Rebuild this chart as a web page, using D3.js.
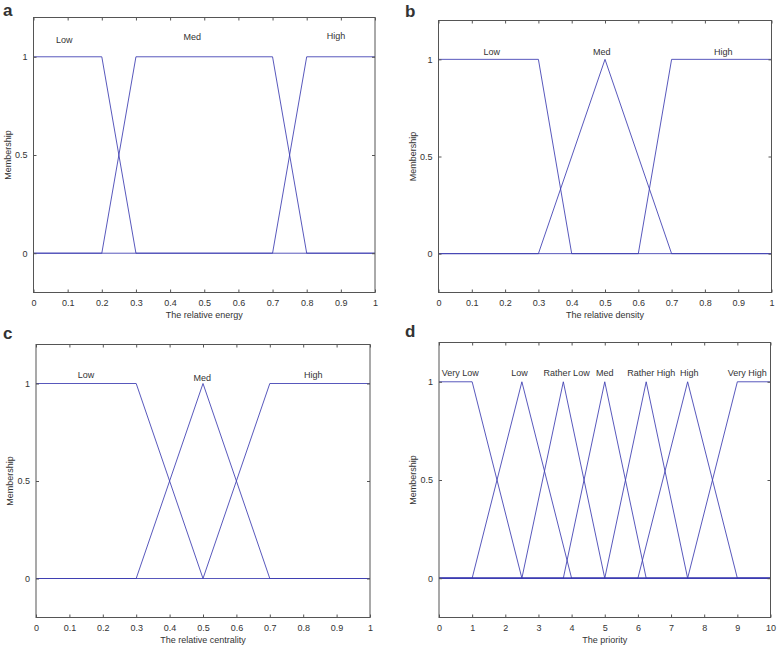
<!DOCTYPE html>
<html><head><meta charset="utf-8">
<script src="https://cdn.jsdelivr.net/npm/d3@7"></script>
<style>
body{margin:0;background:#fff;}
svg{display:block;}
text{font-family:"Liberation Sans",Arial,sans-serif;fill:#333;}
</style></head>
<body>
<svg id="c" width="778" height="648"></svg>
<script>
// ---- Data ----
const unitTicks = [0,0.1,0.2,0.3,0.4,0.5,0.6,0.7,0.8,0.9,1];
const unitTickLabels = ["0","0.1","0.2","0.3","0.4","0.5","0.6","0.7","0.8","0.9","1"];
const priorityTicks = [0,1,2,3,4,5,6,7,8,9,10];
const priorityTickLabels = ["0","1","2","3","4","5","6","7","8","9","10"];
const yTicks = [0,0.5,1];
const yTickLabels = ["0","0.5","1"];

// panel a: relative energy
const energyNames = ["Low","Med","High"];
const energyMF = [
  [[0,1],[0.2,1],[0.3,0],[1,0]],
  [[0,0],[0.2,0],[0.3,1],[0.7,1],[0.8,0],[1,0]],
  [[0,0],[0.7,0],[0.8,1],[1,1]]
];
const energyLabelX = [0.09,0.465,0.886];
const energyLabelY = [1.07,1.085,1.09];

// panel b: relative density
const densityNames = ["Low","Med","High"];
const densityMF = [
  [[0,1],[0.3,1],[0.4,0],[1,0]],
  [[0,0],[0.3,0],[0.5,1],[0.7,0],[1,0]],
  [[0,0],[0.6,0],[0.7,1],[1,1]]
];
const densityLabelX = [0.16,0.49,0.855];
const densityLabelY = [1.02,1.02,1.02];

// panel c: relative centrality
const centralityNames = ["Low","Med","High"];
const centralityMF = [
  [[0,1],[0.3,1],[0.5,0],[1,0]],
  [[0,0],[0.3,0],[0.5,1],[0.7,0],[1,0]],
  [[0,0],[0.5,0],[0.7,1],[1,1]]
];
const centralityLabelX = [0.15,0.498,0.83];
const centralityLabelY = [1.03,1.015,1.03];

// panel d: priority
const priorityNames = ["Very Low","Low","Rather Low","Med","Rather High","High","Very High"];
const priorityMF = [
  [[0,1],[1,1],[2.5,0],[10,0]],
  [[0,0],[1,0],[2.5,1],[4,0],[10,0]],
  [[0,0],[2.5,0],[3.75,1],[5,0],[10,0]],
  [[0,0],[3.75,0],[5,1],[6.25,0],[10,0]],
  [[0,0],[5,0],[6.25,1],[7.5,0],[10,0]],
  [[0,0],[6,0],[7.5,1],[9,0],[10,0]],
  [[0,0],[7.5,0],[9,1],[10,1]]
];
const priorityLabelX = [0.64,2.43,3.85,5.0,6.4,7.55,9.3];
const priorityLabelY = [1.03,1.03,1.03,1.03,1.03,1.03,1.03];

// ---- Drawing ----
const svg = d3.select("#c");
const lineColor = "#3b3bb0";

function panel(cfg){
  const x = d3.scaleLinear().domain(cfg.xDomain).range([cfg.left, cfg.right]);
  const y = d3.scaleLinear().domain([-0.2,1.2]).range([cfg.bottom, cfg.top]);
  const g = svg.append("g");

  // membership functions
  const line = d3.line().x(d=>x(d[0])).y(d=>y(d[1]));
  cfg.mf.forEach(m=>{
    g.append("path").attr("d", line(m)).attr("fill","none")
      .attr("stroke", lineColor).attr("stroke-width",1).attr("stroke-opacity",0.85);
  });

  // axes
  const bottomAxis = d3.axisBottom(x).tickValues(cfg.xTicks)
     .tickFormat((d,i)=>cfg.xTickLabels[i]).tickSizeInner(-3).tickSizeOuter(0).tickPadding(7);
  const topAxis = d3.axisTop(x).tickValues(cfg.xTicks).tickFormat("").tickSizeInner(-3).tickSizeOuter(0);
  const leftAxis = d3.axisLeft(y).tickValues(yTicks).tickFormat((d,i)=>yTickLabels[i])
     .tickSizeInner(-3).tickSizeOuter(0).tickPadding(6);
  const rightAxis = d3.axisRight(y).tickValues(yTicks).tickFormat("").tickSizeInner(-3).tickSizeOuter(0);

  function style(sel){
    sel.select(".domain").remove();
    sel.selectAll("line").attr("stroke","#555");
    sel.selectAll("text").attr("fill","#333").style("font-size","9px")
       .attr("font-family","Liberation Sans, Arial, sans-serif");
  }
  g.append("g").attr("transform",`translate(0,${cfg.bottom})`).call(bottomAxis).call(style);
  g.append("g").attr("transform",`translate(0,${cfg.top})`).call(topAxis).call(style);
  g.append("g").attr("transform",`translate(${cfg.left},0)`).call(leftAxis).call(style);
  g.append("g").attr("transform",`translate(${cfg.right},0)`).call(rightAxis).call(style);

  g.append("rect").attr("x",cfg.left).attr("y",cfg.top)
   .attr("width",cfg.right-cfg.left).attr("height",cfg.bottom-cfg.top)
   .attr("fill","none").attr("stroke","#555").attr("stroke-width",1);

  // mf labels
  cfg.names.forEach((n,i)=>{
    g.append("text").attr("x",x(cfg.labelX[i])).attr("y",y(cfg.labelY[i]))
     .attr("text-anchor","middle").style("font-size","9px").text(n);
  });

  // axis labels
  g.append("text").attr("x",(cfg.left+cfg.right)/2).attr("y",cfg.bottom+25)
   .attr("text-anchor","middle").style("font-size","9px").text(cfg.xLabel);
  g.append("text").attr("transform",`translate(${cfg.left-23},${(cfg.top+cfg.bottom)/2}) rotate(-90)`)
   .attr("text-anchor","middle").style("font-size","9px").text("Membership");

  // panel letter
  svg.append("text").attr("x",cfg.letterX).attr("y",cfg.letterY)
   .style("font-size","17px").style("font-weight","bold").attr("fill","#111")
   .style("font-family","Liberation Sans, Arial, sans-serif").text(cfg.letter);
}

panel({left:33.5,right:375,top:17.5,bottom:292.5,xDomain:[0,1],xTicks:unitTicks,xTickLabels:unitTickLabels,
  mf:energyMF,names:energyNames,labelX:energyLabelX,labelY:energyLabelY,xLabel:"The relative energy",
  letter:"a",letterX:3,letterY:16});
panel({left:438.5,right:771.5,top:20.5,bottom:292.5,xDomain:[0,1],xTicks:unitTicks,xTickLabels:unitTickLabels,
  mf:densityMF,names:densityNames,labelX:densityLabelX,labelY:densityLabelY,xLabel:"The relative density",
  letter:"b",letterX:405,letterY:17});
panel({left:36,right:370,top:344.5,bottom:617.5,xDomain:[0,1],xTicks:unitTicks,xTickLabels:unitTickLabels,
  mf:centralityMF,names:centralityNames,labelX:centralityLabelX,labelY:centralityLabelY,xLabel:"The relative centrality",
  letter:"c",letterX:3,letterY:339});
panel({left:439,right:770.5,top:342.5,bottom:617.5,xDomain:[0,10],xTicks:priorityTicks,xTickLabels:priorityTickLabels,
  mf:priorityMF,names:priorityNames,labelX:priorityLabelX,labelY:priorityLabelY,xLabel:"The priority",
  letter:"d",letterX:405,letterY:337});
</script>
</body></html>
